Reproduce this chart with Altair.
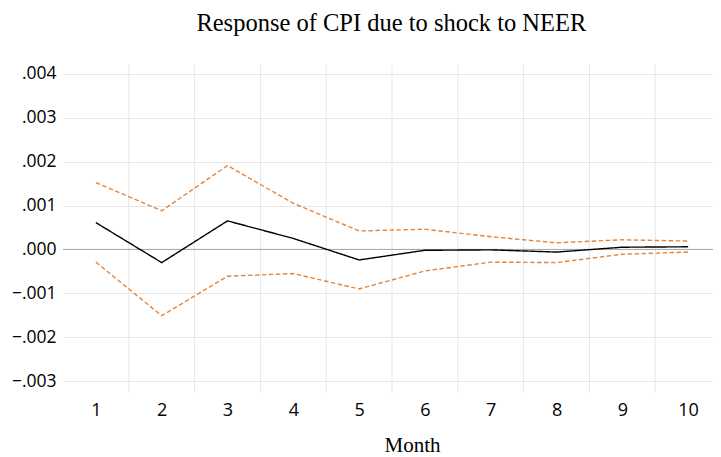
import altair as alt
import pandas as pd

months = list(range(1, 11))
response = [0.00061, -0.00030, 0.00065, 0.00025, -0.00024, -0.00002, -0.00001, -0.00006, 0.00005, 0.00006]
upper = [0.00152, 0.00088, 0.00191, 0.00105, 0.00042, 0.00046, 0.00029, 0.00015, 0.00022, 0.00019]
lower = [-0.00029, -0.00151, -0.00061, -0.00055, -0.00090, -0.00049, -0.00029, -0.00030, -0.00011, -0.00006]
y_ticks = [-0.003, -0.002, -0.001, 0.0, 0.001, 0.002, 0.003, 0.004]
x_grid = [1.5, 2.5, 3.5, 4.5, 5.5, 6.5, 7.5, 8.5, 9.5]

rows = []
for name, vals in [("upper", upper), ("lower", lower), ("response", response)]:
    for m, v in zip(months, vals):
        rows.append({"month": m, "value": v, "series": name})
df = pd.DataFrame(rows)

xscale = alt.Scale(domain=[0.5, 10.378], nice=False, zero=False)
yscale = alt.Scale(domain=[-0.00327, 0.0042], nice=False, zero=False)

SANS = "Open Sans"
SERIF = "Liberation Serif"

xaxis = alt.Axis(values=months, grid=False, domain=False, ticks=False,
                 labelFont=SANS, labelFontSize=18, labelColor="#000000",
                 labelPadding=8, title="Month", titleFont=SERIF,
                 titleFontSize=21, titleFontWeight="normal", titleColor="#000000",
                 titlePadding=15, titleX=349)
yaxis = alt.Axis(values=y_ticks, grid=True, gridColor="#e6e6e6", domain=False,
                 ticks=False, labelFont=SANS, labelFontSize=17.5, labelColor="#000000",
                 labelPadding=7, title=None,
                 labelExpr="replace(format(datum.value, '.3f'), '0.', '.')")

vgrid = alt.Chart(pd.DataFrame({"g": x_grid})).mark_rule(color="#e6e6e6", strokeWidth=1).encode(
    x=alt.X("g:Q", scale=xscale, axis=xaxis)
)

zero = alt.Chart(pd.DataFrame({"z": [0.0]})).mark_rule(color="#a6a6a6", strokeWidth=1).encode(
    y=alt.Y("z:Q", scale=yscale, axis=yaxis)
)

lines = alt.Chart(df).mark_line(strokeWidth=1.4).encode(
    x=alt.X("month:Q", scale=xscale, axis=xaxis),
    y=alt.Y("value:Q", scale=yscale, axis=yaxis),
    color=alt.Color("series:N", scale=alt.Scale(domain=["response", "upper", "lower"],
                                                range=["#000000", "#E5853C", "#E5853C"]),
                    legend=None),
    strokeDash=alt.StrokeDash("series:N", scale=alt.Scale(domain=["response", "upper", "lower"],
                                                          range=[[1, 0], [4.5, 2.5], [4.5, 2.5]]),
                              legend=None),
    detail="series:N",
)

chart = alt.layer(vgrid, zero, lines).properties(
    width=650,
    height=328,
    title=alt.Title("Response of CPI due to shock to NEER", font=SERIF, fontSize=24.5,
                    fontWeight="normal", color="#000000", anchor="start", dx=185, offset=28),
    autosize=alt.AutoSizeParams(type="none"),
    padding={"left": 55, "top": 57, "right": 0, "bottom": 64},
    background="#ffffff",
).configure_view(stroke=None)

chart.save("out.html", embed_options={"renderer": "svg", "actions": False})
